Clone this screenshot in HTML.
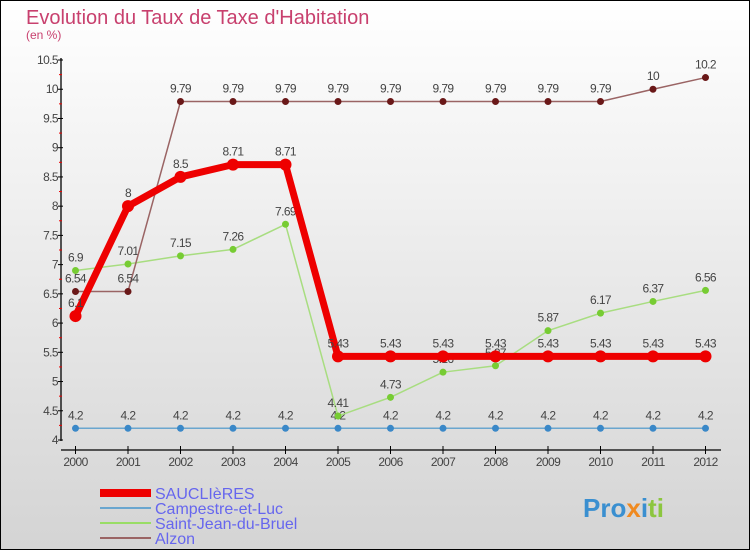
<!DOCTYPE html>
<html><head><meta charset="utf-8"><style>
body{margin:0;width:750px;height:550px;overflow:hidden;font-family:"Liberation Sans",sans-serif}
</style></head><body>
<svg id="c" width="750" height="550" xmlns="http://www.w3.org/2000/svg">
<defs><linearGradient id="bg" x1="0" y1="0" x2="0" y2="1"><stop offset="0" stop-color="#ffffff"/><stop offset="1" stop-color="#d4d4d4"/></linearGradient></defs>
<rect x="0.5" y="0.5" width="749" height="549" fill="url(#bg)" stroke="#000"/>
<text x="26" y="24" font-size="20" fill="#c8406e">Evolution du Taux de Taxe d'Habitation</text>
<text x="26" y="39" font-size="12" fill="#c8406e">(en %)</text>
<g id="axes"></g><g id="series"></g>
<g>
<rect x="100" y="489" width="51" height="8" fill="#ee0000"/>
<text x="155" y="499" font-size="16" fill="#6666ee">SAUCLIèRES</text>
<rect x="100" y="507" width="51" height="2" fill="#6aa6cf"/>
<text x="155" y="514" font-size="16" fill="#6666ee">Campestre-et-Luc</text>
<rect x="100" y="522" width="51" height="2" fill="#99dd66"/>
<text x="155" y="529" font-size="16" fill="#6666ee">Saint-Jean-du-Bruel</text>
<rect x="100" y="537" width="51" height="2" fill="#9a6464"/>
<text x="155" y="544" font-size="16" fill="#6666ee">Alzon</text>
</g>
<text x="583" y="517" font-size="26" font-weight="bold" fill="#3a8fd0">Pro<tspan fill="#f08a20">x</tspan><tspan fill="#3a8fd0">i</tspan><tspan fill="#8cc63f">ti</tspan></text>
</svg>
<script>
const years=[2000,2001,2002,2003,2004,2005,2006,2007,2008,2009,2010,2011,2012];
const sauclieres=[6.12,8,8.5,8.71,8.71,5.43,5.43,5.43,5.43,5.43,5.43,5.43,5.43];
const sauclieresLabels=["6.1","8","8.5","8.71","8.71","5.43","5.43","5.43","5.43","5.43","5.43","5.43","5.43"];
const campestre=[4.2,4.2,4.2,4.2,4.2,4.2,4.2,4.2,4.2,4.2,4.2,4.2,4.2];
const saintJean=[6.9,7.01,7.15,7.26,7.69,4.41,4.73,5.16,5.27,5.87,6.17,6.37,6.56];
const alzon=[6.54,6.54,9.79,9.79,9.79,9.79,9.79,9.79,9.79,9.79,9.79,10,10.2];
const yTicks=[4,4.5,5,5.5,6,6.5,7,7.5,8,8.5,9,9.5,10,10.5];
const NS="http://www.w3.org/2000/svg";
const xs=i=>75.5+i*52.5;
const ys=v=>440-(v-4)*58.46;
function mk(t,a,p){const e=document.createElementNS(NS,t);for(const k in a)e.setAttribute(k,a[k]);p.appendChild(e);return e;}
const ax=document.getElementById('axes'),sr=document.getElementById('series');
let l=mk('line',{x1:61,y1:58,x2:61,y2:441,stroke:'#000','stroke-width':1.3},ax);


l=mk('line',{x1:61,y1:450,x2:721,y2:450,stroke:'#000','stroke-width':1.3},ax);


yTicks.forEach(v=>{const y=ys(v);mk('line',{x1:58,y1:y,x2:63,y2:y,stroke:'#000'},ax);
 if(v<10.5)mk('line',{x1:59,y1:ys(v+0.25),x2:62,y2:ys(v+0.25),stroke:'#e00'},ax);
 const t=mk('text',{x:58,y:y+4,'text-anchor':'end','font-size':12,fill:'#444','letter-spacing':'-0.6'},ax);t.textContent=String(v);
 
 });
years.forEach((yr,i)=>{const x=xs(i);mk('line',{x1:x,y1:446,x2:x,y2:454,stroke:'#000'},ax);
 const t=mk('text',{x:x,y:466,'text-anchor':'middle','font-size':12,fill:'#444','letter-spacing':'-0.6'},ax);t.textContent=yr;
 
 });
function series(name,vals,labels,color,w,r,dot){
 const g=mk('g',{},sr);
 
 
 const p=mk('polyline',{points:vals.map((v,i)=>xs(i)+','+ys(v)).join(' '),fill:'none',stroke:color,'stroke-width':w,'stroke-linejoin':'round'},g);
 
 
 vals.forEach((v,i)=>{const c=mk('circle',{cx:xs(i),cy:ys(v),r:r,fill:dot},g);
  
  
  const t=mk('text',{x:xs(i),y:ys(v)-9,'text-anchor':'middle','font-size':12,fill:'#444','letter-spacing':'-0.6'},g);t.textContent=labels?labels[i]:String(v);
  
  });
}
series('campestre',campestre,null,'#6aa6cf',1.5,3.5,'#3a88c8');
series('saint-jean',saintJean,null,'#a8dd80',1.5,3.5,'#77cc33');
series('alzon',alzon,null,'#9a6464',1.5,3.5,'#6a1818');
series('sauclieres',sauclieres,sauclieresLabels,'#ee0000',7,6,'#ee0000');
</script>
</body></html>
